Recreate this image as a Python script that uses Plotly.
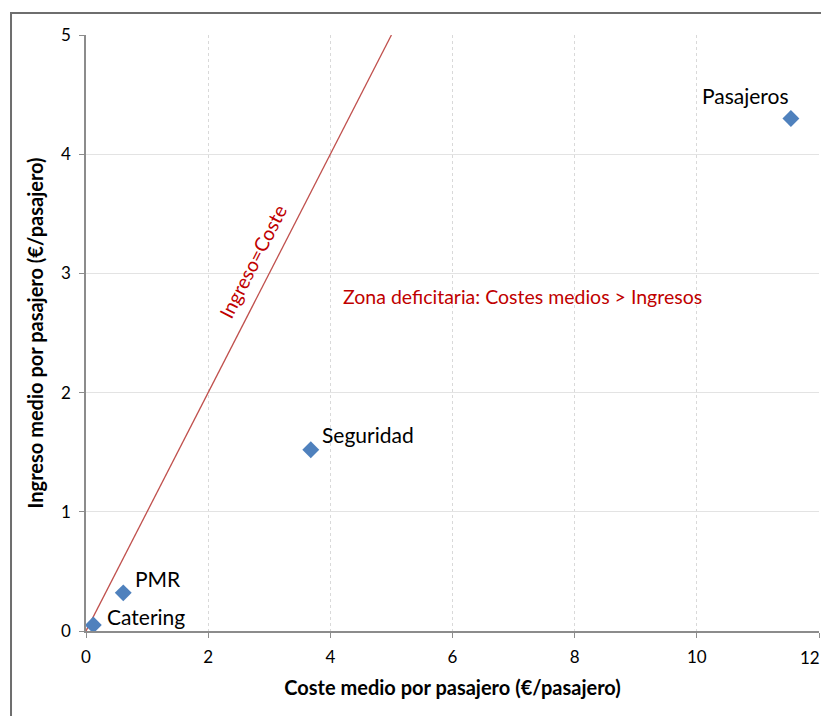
import plotly.graph_objects as go

categories = ["Pasajeros", "Seguridad", "PMR", "Catering"]
coste = [11.54, 3.68, 0.61, 0.12]
ingreso = [4.30, 1.52, 0.32, 0.05]
line_x = [0, 5]
line_y = [0, 5]
x_ticks = [0, 2, 4, 6, 8, 10, 12]
y_ticks = [0, 1, 2, 3, 4, 5]

FONT = "Lato"

fig = go.Figure()
fig.add_trace(go.Scatter(x=line_x, y=line_y, mode="lines",
                         line=dict(color="#C0504D", width=1.3),
                         hoverinfo="skip", showlegend=False))
fig.add_trace(go.Scatter(x=coste, y=ingreso, mode="markers",
                         marker=dict(symbol="diamond", size=13, color="#4F81BD",
                                     line=dict(width=0)),
                         showlegend=False))

label_pos = {
    "Pasajeros": (-45, -23),
    "Seguridad": (57, -15),
    "PMR": (35, -14),
    "Catering": (53, -9),
}
for c, x, y in zip(categories, coste, ingreso):
    dx, dy = label_pos[c]
    fig.add_annotation(x=x, y=y, text=c, showarrow=False, xshift=dx, yshift=-dy,
                       font=dict(family=FONT, size=21, color="#000000"))

fig.add_annotation(x=2.73, y=3.10, xref="x", yref="y", text="Ingreso=Coste",
                   showarrow=False, textangle=-63,
                   font=dict(family=FONT, size=19.5, color="#C00000"))
fig.add_annotation(x=7.14, y=2.81, xref="x", yref="y",
                   text="Zona deficitaria: Costes medios > Ingresos",
                   showarrow=False, font=dict(family=FONT, size=19.5, color="#C00000"))

# last x tick label drawn right-anchored so it is not cut at the page edge
x_ticktext = [str(v) for v in x_ticks[:-1]] + [""]
fig.add_annotation(x=x_ticks[-1], y=y_ticks[0], xref="x", yref="y", text=str(x_ticks[-1]),
                   showarrow=False, xanchor="right", yanchor="middle",
                   xshift=3, yshift=-26,
                   font=dict(family=FONT, size=17, color="#000000"))

# outer chart border
fig.add_shape(type="rect", xref="paper", yref="paper",
              x0=-0.1023, y0=-0.3, x1=1.2, y1=1.0369,
              line=dict(color="#6E6E6E", width=2), layer="below")

fig.update_xaxes(range=[0, 12], tickvals=x_ticks, ticktext=x_ticktext,
                 showgrid=True, gridcolor="#D9D9D9", griddash="dot", gridwidth=1,
                 showline=True, linecolor="#8C8C8C", linewidth=1.5,
                 ticks="outside", ticklen=5, tickcolor="#8C8C8C",
                 zeroline=False, automargin=False, ticklabeloverflow="allow",
                 ticklabelstandoff=5,
                 tickfont=dict(family=FONT, size=17, color="#000000"),
                 title=dict(text="<b>Coste medio por pasajero (€/pasajero)</b>",
                            font=dict(family=FONT, size=20, color="#000000"), standoff=15))
fig.update_yaxes(range=[0, 5], tickvals=y_ticks, ticktext=[str(v) for v in y_ticks],
                 showgrid=True, gridcolor="#E3E3E3", gridwidth=1,
                 showline=True, linecolor="#8C8C8C", linewidth=1.5,
                 ticks="outside", ticklen=5, tickcolor="#8C8C8C",
                 zeroline=False, automargin=False, ticklabelstandoff=5,
                 tickfont=dict(family=FONT, size=17, color="#000000"),
                 title=dict(text="<b>Ingreso medio por pasajero (€/pasajero)</b>",
                            font=dict(family=FONT, size=20, color="#000000"), standoff=12))

# page body adds an 8px margin, so the figure is sized/offset to compensate
fig.update_layout(width=821, height=708,
                  margin=dict(l=78, r=10, t=27, b=85),
                  paper_bgcolor="white", plot_bgcolor="white")

fig.write_html("out.html")
